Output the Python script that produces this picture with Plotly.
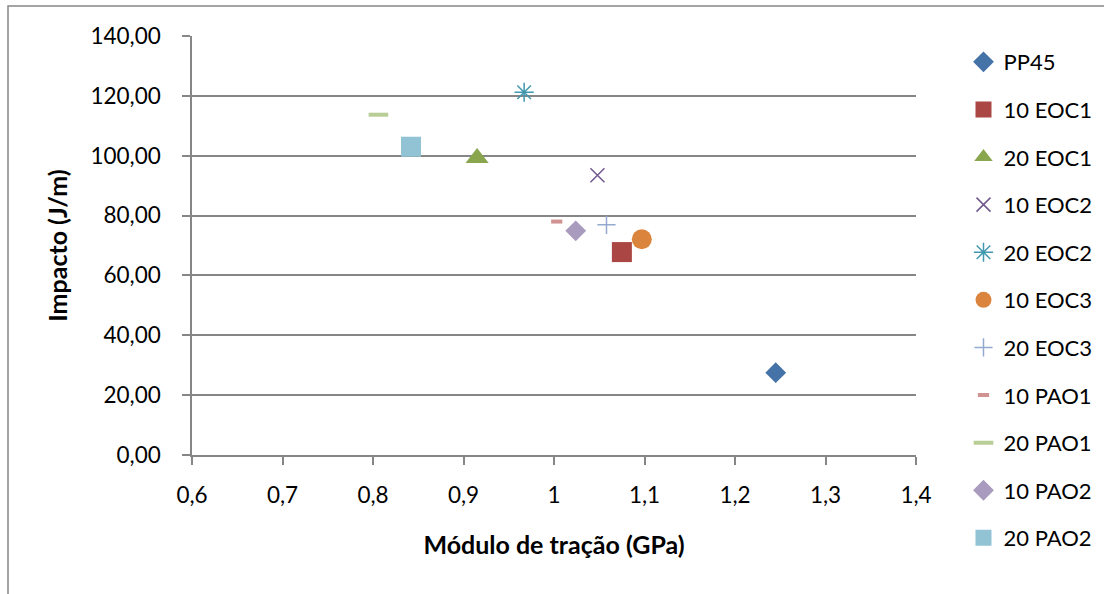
import plotly.graph_objects as go

# Data
series_names = ["PP45", "10 EOC1", "20 EOC1", "10 EOC2", "20 EOC2", "10 EOC3",
                "20 EOC3", "10 PAO1", "20 PAO1", "10 PAO2", "20 PAO2"]
modulo_gpa = [1.245, 1.075, 0.915, 1.048, 0.967, 1.097, 1.058, 1.003, 0.806, 1.024, 0.842]
impacto_jm = [27.5, 67.8, 99.2, 93.5, 121.2, 72.1, 76.9, 78.0, 113.7, 74.9, 103.0]

x_tick_vals = [0.6, 0.7, 0.8, 0.9, 1.0, 1.1, 1.2, 1.3, 1.4]
x_tick_text = ["0,6", "0,7", "0,8", "0,9", "1", "1,1", "1,2", "1,3", "1,4"]
y_tick_vals = [0, 20, 40, 60, 80, 100, 120, 140]

# Styles
colors = ["#4572A7", "#AA4643", "#89A54E", "#71588F", "#4198AF", "#DB843D",
          "#93A9CF", "#D19392", "#B9CD96", "#A99BBD", "#91C3D5"]
symbols = ["diamond", "square", "triangle-up", "x-thin-open", "asterisk-open", "circle",
           "cross-thin-open", "line-ew-open", "line-ew-open", "diamond", "square"]
sizes = [16, 20, 20, 14, 16, 20, 13, 8, 14, 16, 20]
line_widths = [0, 0, 0, 1.5, 1.5, 0, 1.5, 4, 4, 0, 0]

FONT = "Lato, Carlito, Calibri, sans-serif"
GRID = "#868686"

fig = go.Figure()
for i, name in enumerate(series_names):
    open_sym = symbols[i].endswith("-open")
    marker = dict(symbol=symbols[i], size=sizes[i], color=colors[i])
    if open_sym:
        marker["line"] = dict(color=colors[i], width=line_widths[i])
    else:
        marker["line"] = dict(width=0)
    fig.add_trace(go.Scatter(
        x=[modulo_gpa[i]], y=[impacto_jm[i]], mode="markers", name=name,
        marker=marker, legendgroup=name,
    ))

fig.update_layout(
    width=1104, height=594,
    margin=dict(l=192, r=188, t=36, b=139, autoexpand=False),
    paper_bgcolor="white", plot_bgcolor="white",
    separators=",.",
    font=dict(family=FONT, size=22, color="black"),
    showlegend=True,
    legend=dict(
        x=1.0656, y=0.988, xanchor="left", yanchor="top",
        font=dict(family=FONT, size=22, color="black"),
        tracegroupgap=16, itemwidth=30, maxheight=580,
        bgcolor="rgba(0,0,0,0)",
    ),
    xaxis=dict(
        range=[0.6, 1.4], tickvals=x_tick_vals, ticktext=x_tick_text,
        showgrid=False, zeroline=False,
        showline=True, linecolor=GRID, linewidth=1.5,
        ticks="outside", ticklen=8, tickcolor=GRID, tickwidth=1.5,
        tickfont=dict(family=FONT, size=22.5),
        ticklabelstandoff=11,
        title=dict(text="<b>Módulo de tração (GPa)</b>", font=dict(family=FONT, size=25),
                   standoff=30),
    ),
    yaxis=dict(
        range=[0, 140], tickvals=y_tick_vals, tickformat=".2f",
        showgrid=True, gridcolor=GRID, gridwidth=1.5,
        zeroline=False,
        showline=True, linecolor=GRID, linewidth=1.5,
        ticks="outside", ticklen=8, tickcolor=GRID, tickwidth=1.5,
        tickfont=dict(family=FONT, size=22.5),
        ticklabelstandoff=17,
        title=dict(text="<b>Impacto (J/m)</b>", font=dict(family=FONT, size=25),
                   standoff=16),
    ),
    shapes=[dict(type="rect", xref="paper", yref="paper",
                 x0=(8 - 192) / 724, x1=1.3, y0=-0.4, y1=(455 - 6) / 419,
                 line=dict(color=GRID, width=1.5), fillcolor="rgba(0,0,0,0)",
                 layer="below")],
)

fig.write_html("out.html")
